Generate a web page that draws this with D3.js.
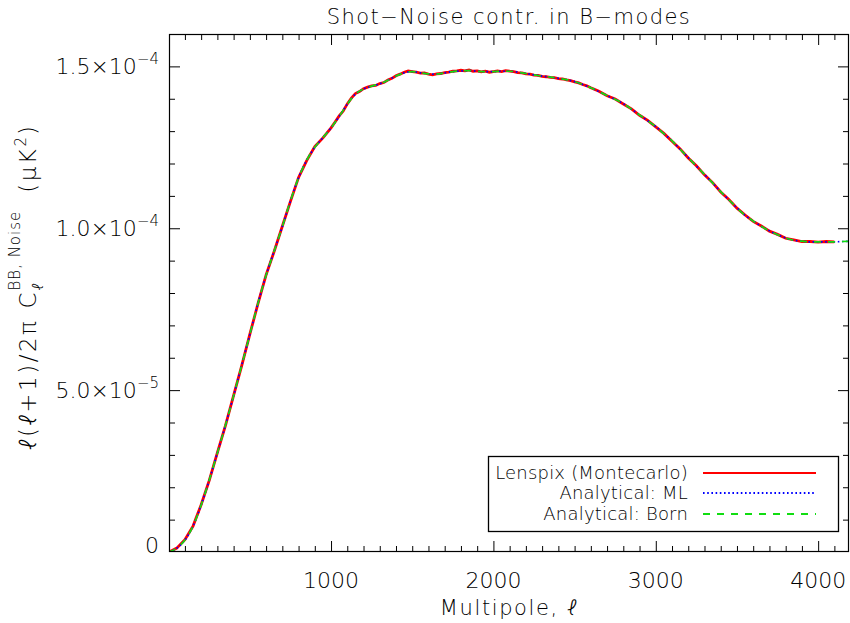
<!DOCTYPE html>
<html><head><meta charset="utf-8">
<script src="https://cdn.jsdelivr.net/npm/d3@7"></script>
<style>
body{margin:0;background:#fff}
text{font-family:"DejaVu Sans",sans-serif;fill:#000;font-weight:200}
</style>
</head><body>
<svg id="c" width="850" height="623"></svg>
<script>
// ---------- data (values in units of 1e-5 muK^2) ----------
const analyticEll = [2,50,100,150,200,250,300,350,400,450,500,550,600,650,700,750,800,850,900,950,
  1000,1050,1100,1150,1200,1250,1300,1350,1400,1450,1500,1550,1600,1650,1700,1750,1800,1850,1900,1950,
  2000,2050,2100,2150,2200,2250,2300,2350,2400,2450,2500,2550,2600,2650,2700,2750,2800,2850,2900,2950,
  3000,3050,3100,3150,3200,3250,3300,3350,3400,3450,3500,3550,3600,3650,3700,3750,3800,3850,3900,3950,
  4000,4050,4100,4150,4200];
const mlVal = [0,0.12,0.37,0.80,1.45,2.22,3.06,3.92,4.83,5.77,6.72,7.68,8.55,9.30,10.05,10.84,11.56,12.10,12.50,12.80,
  13.10,13.45,13.83,14.14,14.30,14.39,14.46,14.57,14.70,14.80,14.84,14.80,14.77,14.76,14.80,14.84,14.86,14.87,14.85,14.84,
  14.84,14.85,14.85,14.82,14.78,14.74,14.70,14.67,14.63,14.59,14.53,14.44,14.34,14.22,14.10,13.98,13.85,13.68,13.50,13.32,
  13.14,12.92,12.70,12.44,12.18,11.92,11.66,11.40,11.13,10.88,10.63,10.40,10.22,10.06,9.92,9.80,9.70,9.63,9.60,9.58,
  9.58,9.58,9.58,9.59,9.60];
const bornVal = [0,0.12,0.37,0.80,1.45,2.22,3.06,3.92,4.83,5.77,6.72,7.68,8.55,9.30,10.05,10.84,11.56,12.10,12.50,12.80,
  13.10,13.45,13.83,14.14,14.30,14.39,14.46,14.57,14.70,14.80,14.84,14.80,14.77,14.76,14.80,14.84,14.86,14.87,14.85,14.84,
  14.84,14.85,14.85,14.82,14.78,14.74,14.70,14.67,14.63,14.59,14.53,14.44,14.34,14.22,14.10,13.98,13.85,13.68,13.50,13.32,
  13.14,12.92,12.70,12.44,12.18,11.92,11.66,11.40,11.13,10.88,10.63,10.40,10.22,10.06,9.92,9.80,9.70,9.63,9.60,9.58,
  9.58,9.58,9.58,9.59,9.60];
const lenspixEll = [2,50,100,150,200,250,300,350,400,450,500,550,600,650,700,750,800,850,900,950,1000,
  1025,1050,1075,1100,1125,1150,1175,1200,1225,1250,1275,1300,1325,1350,1375,1400,1425,1450,1475,1500,
  1525,1550,1575,1600,1625,1650,1675,1700,1725,1750,1775,1800,1825,1850,1875,1900,1925,1950,1975,2000,
  2025,2050,2075,2100,2125,2150,2175,2200,2225,2250,2275,2300,2325,2350,2375,2400,2425,2450,2475,2500,
  2525,2550,2575,2600,2650,2700,2750,2800,2850,2900,2950,3000,3050,3100,3150,3200,3250,3300,3350,3400,
  3450,3500,3550,3600,3650,3700,3750,3800,3850,3900,3950,4000,4050,4100];
const lenspixVal = [0,0.12,0.38,0.80,1.46,2.21,3.07,3.91,4.84,5.76,6.73,7.67,8.56,9.29,10.06,10.83,11.57,12.09,12.52,12.79,13.10,
  13.28,13.47,13.62,13.84,14.02,14.16,14.22,14.31,14.36,14.40,14.41,14.47,14.50,14.58,14.63,14.71,14.76,14.82,14.86,14.84,
  14.82,14.79,14.80,14.76,14.74,14.77,14.78,14.81,14.82,14.85,14.86,14.88,14.86,14.89,14.85,14.86,14.83,14.85,14.82,14.84,
  14.86,14.84,14.87,14.85,14.84,14.81,14.80,14.77,14.76,14.73,14.72,14.69,14.68,14.66,14.65,14.62,14.61,14.58,14.56,14.52,
  14.49,14.44,14.40,14.34,14.23,14.09,13.99,13.84,13.69,13.49,13.33,13.13,12.93,12.69,12.45,12.17,11.93,11.65,11.41,11.12,
  10.89,10.62,10.41,10.21,10.07,9.91,9.81,9.69,9.64,9.59,9.59,9.57,9.59,9.58];
const xMajorTicks = [1000,2000,3000,4000];
const xTickLabels = ["1000","2000","3000","4000"];
const yMajorTicks = [0,5,10,15];
const yTickMantissa = ["0","5.0×10","1.0×10","1.5×10"];
const yTickExponent = ["","−5","−4","−4"];
const legendLabels = ["Lenspix (Montecarlo)","Analytical: ML","Analytical: Born"];
const titleText = "Shot−Noise contr. in B−modes";
const xLabelText = "Multipole, ℓ";

// ---------- layout ----------
const m = {l:169, r:849, t:34, b:552};
const svg = d3.select("#c");
const x = d3.scaleLinear().domain([2,4190]).range([m.l,m.r]);
const y = d3.scaleLinear().domain([0,16]).range([m.b,m.t]);

svg.append("clipPath").attr("id","clip").append("rect")
  .attr("x",m.l).attr("y",m.t).attr("width",m.r-m.l).attr("height",m.b-m.t);

const styles = [
  {color:"#ff0000", width:2.8, dash:null},
  {color:"#0000ff", width:1.7, dash:"1.6,2.6"},
  {color:"#11dd11", width:1.7, dash:"7,7"}
];

const line = d3.line().x(d=>x(d[0])).y(d=>y(d[1]));
const lineSmooth = d3.line().x(d=>x(d[0])).y(d=>y(d[1])).curve(d3.curveMonotoneX);
const series = [
  {data: lenspixEll.map((e,i)=>[e,lenspixVal[i]]), gen: line},
  {data: analyticEll.map((e,i)=>[e,mlVal[i]]), gen: lineSmooth},
  {data: analyticEll.map((e,i)=>[e,bornVal[i]]), gen: lineSmooth}
];
const plot = svg.append("g").attr("clip-path","url(#clip)");
series.forEach((s,i)=>{
  plot.append("path").attr("d", s.gen(s.data))
    .attr("fill","none").attr("stroke",styles[i].color)
    .attr("stroke-width",styles[i].width)
    .attr("stroke-dasharray",styles[i].dash);
});

// ---------- axes ----------
const xMinor = [], yMinor = [];
for (let v=100; v<=4100; v+=100) if (v%1000) xMinor.push(v);
for (let v=1; v<16; v++) if (v%5) yMinor.push(v);

function addAxis(axisFn, scale, tr, vals, size){
  const a = svg.append("g").attr("transform",tr)
    .call(axisFn(scale).tickValues(vals).tickSize(-size).tickFormat(""));
  a.select(".domain").remove();
  a.selectAll("line").attr("stroke","#000").attr("stroke-width",1);
}
addAxis(d3.axisBottom, x, `translate(0,${m.b})`, xMajorTicks, 11);
addAxis(d3.axisBottom, x, `translate(0,${m.b})`, xMinor, 6);
addAxis(d3.axisTop, x, `translate(0,${m.t})`, xMajorTicks, 11);
addAxis(d3.axisTop, x, `translate(0,${m.t})`, xMinor, 6);
addAxis(d3.axisLeft, y, `translate(${m.l},0)`, yMajorTicks.slice(1), 11);
addAxis(d3.axisLeft, y, `translate(${m.l},0)`, yMinor, 6);
addAxis(d3.axisRight, y, `translate(${m.r},0)`, yMajorTicks.slice(1), 11);
addAxis(d3.axisRight, y, `translate(${m.r},0)`, yMinor, 6);

svg.append("rect").attr("x",m.l+0.5).attr("y",m.t+0.5)
  .attr("width",m.r-m.l-1).attr("height",m.b-m.t-1)
  .attr("fill","none").attr("stroke","#000").attr("stroke-width",1.2);

// helper: write text, putting the script ell in a light tspan
function fillText(t, str){
  str.split(/(ℓ)/).forEach(s=>{
    if (!s) return;
    const sp = t.append("tspan").text(s);
    if (s === "ℓ") sp.attr("font-family","Roboto, 'Noto Sans', 'DejaVu Sans'").attr("font-weight",300)
      .attr("font-style","italic");
  });
  return t;
}

// x tick labels
xMajorTicks.forEach((v,i)=>{
  svg.append("text").attr("x",x(v)).attr("y",588).attr("text-anchor","middle")
    .attr("font-size",22).text(xTickLabels[i]);
});
// y tick labels
yMajorTicks.forEach((v,i)=>{
  const t = svg.append("text").attr("x",159).attr("y", i===0 ? 553 : y(v)+8)
    .attr("text-anchor","end").attr("font-size",22);
  t.append("tspan").text(yTickMantissa[i]);
  if (yTickExponent[i]) t.append("tspan").attr("font-size",15).attr("dy",-10).text(yTickExponent[i]);
});

// title & x label
svg.append("text").attr("x",(m.l+m.r)/2).attr("y",24).attr("text-anchor","middle")
  .attr("font-size",21).attr("letter-spacing",1.45).text(titleText);
fillText(svg.append("text").attr("x",(m.l+m.r)/2).attr("y",615).attr("text-anchor","middle")
  .attr("font-size",21).attr("letter-spacing",1.6), xLabelText);

// y label (rotated)
const yl = svg.append("g").attr("transform","translate(36,288) rotate(-90)");
const parts = [];
let cx = 0;
function piece(txt, size, dy, advance, ls){
  const t = yl.append("text").attr("x",cx).attr("y",dy).attr("font-size",size)
    .attr("letter-spacing", ls||0);
  fillText(t, txt);
  const w = t.node().getComputedTextLength();
  parts.push(t);
  if (advance) cx += w;
  return w;
}
piece("ℓ(ℓ+1)/2π", 23, 0, true, 2.5);
cx += 10;
piece("C", 23, 0, true);
cx += 2;
const wSub = piece("ℓ", 15, 7, false);
const wSup = piece("BB, Noise", 15, -16, false, 1);
cx += Math.max(wSub,wSup) + 18;
piece("(μK", 23, 0, true, 2.5);
piece("2", 15, -10, true);
cx += 2;
piece(")", 23, 0, true);
const total = cx;
parts.forEach(p=>p.attr("x", +p.attr("x") - total/2));

// legend
const lg = svg.append("g");
lg.append("rect").attr("x",488.5).attr("y",456.5).attr("width",350).attr("height",75)
  .attr("fill","#fff").attr("stroke","#000").attr("stroke-width",1.3);
const rowsY = [473,493,514];
legendLabels.forEach((lab,i)=>{
  lg.append("text").attr("x",688).attr("y",rowsY[i]+6).attr("text-anchor","end")
    .attr("font-size",18).attr("letter-spacing",0.2).text(lab);
  lg.append("line").attr("x1",703).attr("x2",816).attr("y1",rowsY[i]).attr("y2",rowsY[i])
    .attr("stroke",styles[i].color).attr("stroke-width",2)
    .attr("stroke-dasharray",styles[i].dash);
});
</script>
</body></html>
